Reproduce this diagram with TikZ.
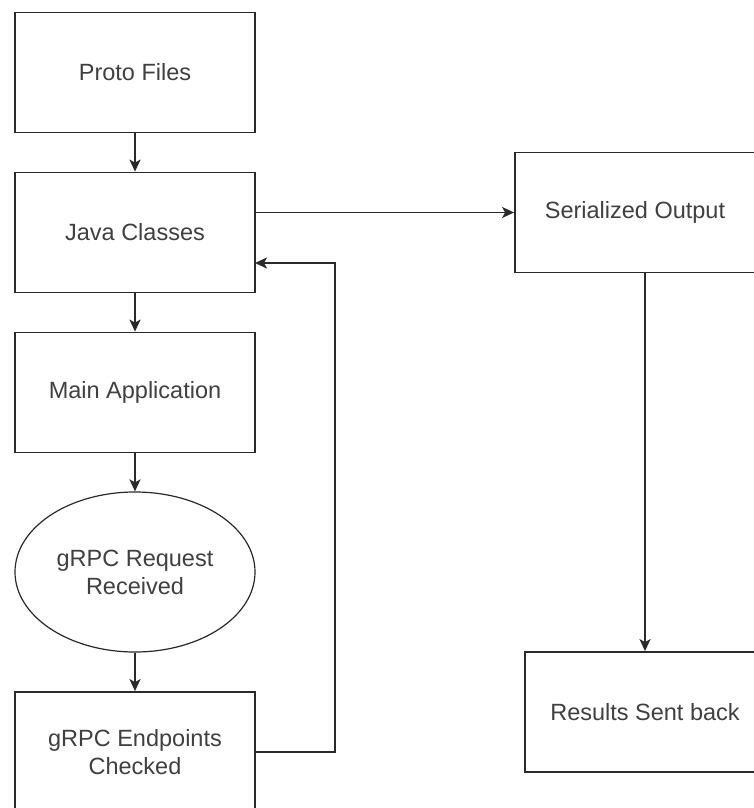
\documentclass[tikz,border=0pt]{standalone}
\usepackage{fontspec}
\setmainfont{Liberation Sans}
\usetikzlibrary{arrows.meta,shapes.geometric}
\definecolor{ln}{HTML}{2A2A2A}
\definecolor{tx}{HTML}{404040}
\tikzset{
  box/.style={draw=ln, line width=1.8pt, rectangle, minimum width=240pt, minimum height=120pt, inner sep=0pt, align=center, text=tx, font=\fontsize{23.5}{28}\selectfont},
  oval/.style={draw=ln, line width=1.2pt, ellipse, minimum width=240pt, minimum height=160pt, inner sep=0pt, align=center, text=tx, font=\fontsize{23.5}{28}\selectfont},
  conn/.style={draw=ln, line width=1.8pt, -{Stealth[length=12pt, width=11pt, inset=3pt]}}
}
\begin{document}
\begin{tikzpicture}[x=1pt, y=-1pt]
\useasboundingbox (0,0) rectangle (754,808);
\clip (0,0) rectangle (754,808);
\fill[white] (0,0) rectangle (754,808);
\node[box] (proto) at (135,72.5) {Proto Files};
\node[box] (java) at (135,232.5) {Java Classes};
\node[box] (main) at (135,392.5) {Main Application};
\node[oval] (req) at (135,572) {gRPC Request\\Received};
\node[box] (endp) at (135,752) {gRPC Endpoints\\Checked};
\node[box] (serial) at (635,212.5) {Serialized Output};
\node[box] (res) at (645,712) {Results Sent back};
\coordinate (jin) at (255,263);
\coordinate (loopx) at (335,263);
\draw[conn] (proto) -- (java);
\draw[conn] (java) -- (main);
\draw[conn] (main) -- (req);
\draw[conn] (req) -- (endp);
\draw[conn] (serial.west -| java.east) -- (serial.west);
\draw[conn] (serial.south -| res.north) -- (res.north);
\draw[conn] (endp.east) -| (loopx) -- (jin);
\end{tikzpicture}
\end{document}
